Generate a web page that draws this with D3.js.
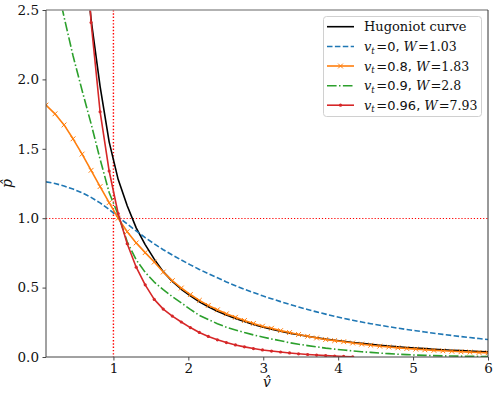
<!DOCTYPE html>
<html>
<head>
<meta charset="utf-8">
<script src="https://cdn.jsdelivr.net/npm/d3@7"></script>
<style>
  html, body { margin: 0; padding: 0; background: #fff; }
  svg { display: block; }
</style>
</head>
<body>
<svg id="chart" width="498" height="396"></svg>
<script>
// ---- data ----
const vGrid = [0.100,0.220,0.341,0.461,0.582,0.702,0.822,0.943,1.063,1.184,1.304,1.424,1.545,1.665,1.786,1.906,2.027,2.147,2.267,2.388,2.508,2.629,2.749,2.869,2.990,3.110,3.231,3.351,3.471,3.592,3.712,3.833,3.953,4.073,4.194,4.314,4.435,4.555,4.676,4.796,4.916,5.037,5.157,5.278,5.398,5.518,5.639,5.759,5.880,6.000];

const hugoniot = [null,null,null,null,3.09,2.43,1.95,1.55,1.28,1.09,0.93,0.81,0.705,0.615,0.545,0.488,0.44,0.398,0.362,0.33,0.302,0.277,0.255,0.235,0.216,0.2,0.185,0.172,0.16,0.149,0.139,0.129,0.121,0.113,0.105,0.098,0.091,0.085,0.079,0.074,0.069,0.064,0.06,0.056,0.052,0.049,0.046,0.043,0.04,0.038];

const pVt0 = [1.262,1.25,1.232,1.21,1.183,1.15,1.11,1.063,1.01,0.958,0.908,0.86,0.815,0.773,0.735,0.699,0.664,0.631,0.6,0.571,0.541,0.514,0.488,0.464,0.441,0.42,0.399,0.379,0.36,0.342,0.325,0.309,0.293,0.278,0.265,0.252,0.24,0.229,0.218,0.208,0.198,0.189,0.18,0.171,0.163,0.155,0.147,0.14,0.133,0.126];

const pVt08 = [1.815,1.752,1.672,1.572,1.462,1.345,1.228,1.112,1.0,0.903,0.822,0.752,0.684,0.612,0.55,0.497,0.45,0.408,0.372,0.34,0.311,0.286,0.263,0.242,0.222,0.207,0.19,0.176,0.162,0.149,0.137,0.126,0.118,0.11,0.101,0.093,0.085,0.078,0.072,0.066,0.061,0.0565,0.052,0.048,0.0445,0.041,0.0376,0.0349,0.0324,0.030];

const pVt09 = [null,2.75,2.45,2.17,1.92,1.68,1.425,1.185,1.025,0.83,0.70,0.61,0.54,0.485,0.435,0.39,0.343,0.30,0.27,0.24,0.215,0.195,0.176,0.159,0.144,0.13,0.117,0.103,0.092,0.082,0.073,0.064,0.057,0.05,0.044,0.038,0.033,0.028,0.024,0.02,0.017,0.014,0.012,0.01,0.008,0.007,0.006,0.005,0.004,0.003];

const pVt096 = [null,null,null,null,3.4,2.41,1.767,1.34,1.034,0.816,0.647,0.52,0.415,0.345,0.295,0.252,0.212,0.177,0.148,0.124,0.104,0.087,0.073,0.061,0.051,0.043,0.036,0.029,0.023,0.018,0.014,0.01,0.007,0.004,0.0015,null,null,null,null,null,null,null,null,null,null,null,null,null,null,null];

const xTicks = [1,2,3,4,5,6];
const yTicks = [0.0,0.5,1.0,1.5,2.0,2.5];
const vtLabels = ["0","0.8","0.9","0.96"];
const wLabels = ["1.03","1.83","2.8","7.93"];
const refV = 1, refP = 1;

// ---- layout ----
const svg = d3.select("#chart");
const L = 46, R = 488, T = 10, B = 357;
const x = d3.scaleLinear().domain([0.1, 6]).range([L, R]);
const y = d3.scaleLinear().domain([0, 2.5]).range([B, T]);

const serif = "'DejaVu Serif', serif";
const sans = "'DejaVu Sans', sans-serif";

svg.append("defs").append("clipPath").attr("id", "clip")
  .append("rect").attr("x", L).attr("y", T).attr("width", R - L).attr("height", B - T);

const plot = svg.append("g").attr("clip-path", "url(#clip)");

// reference dotted lines
const rx = x(refV);
const ry = Math.round(y(refP)) + 0.5;
plot.append("line")
  .attr("x1", rx).attr("x2", rx).attr("y1", T).attr("y2", B)
  .attr("stroke", "#ff0000").attr("stroke-width", 1.4).attr("stroke-dasharray", "1.4,1.9");
plot.append("line")
  .attr("x1", L).attr("x2", R).attr("y1", ry).attr("y2", ry)
  .attr("stroke", "#ff0000").attr("stroke-width", 1.1).attr("stroke-dasharray", "1.2,1.9");

function pts(arr) {
  return vGrid.map((v, i) => ({ v: v, p: arr[i] })).filter(d => d.p !== null);
}
const line = d3.line().x(d => x(d.v)).y(d => y(d.p));

const series = [
  { data: hugoniot, color: "#000000", dash: null, marker: null },
  { data: pVt0, color: "#1f77b4", dash: "5.5,2.4", marker: null },
  { data: pVt08, color: "#ff7f0e", dash: null, marker: "x" },
  { data: pVt09, color: "#2ca02c", dash: "9.6,2.4,1.5,2.4", marker: null },
  { data: pVt096, color: "#d62728", dash: null, marker: "dot" }
];

series.forEach(s => {
  const d = pts(s.data);
  plot.append("path").datum(d)
    .attr("d", line)
    .attr("fill", "none")
    .attr("stroke", s.color)
    .attr("stroke-width", 1.6)
    .attr("stroke-dasharray", s.dash)
    .attr("stroke-linejoin", "round");
  if (s.marker === "x") {
    const sz = 2.4;
    plot.append("g").selectAll("path").data(d).enter().append("path")
      .attr("d", p => `M${x(p.v)-sz},${y(p.p)-sz}L${x(p.v)+sz},${y(p.p)+sz}M${x(p.v)-sz},${y(p.p)+sz}L${x(p.v)+sz},${y(p.p)-sz}`)
      .attr("stroke", s.color).attr("stroke-width", 1).attr("fill", "none");
  } else if (s.marker === "dot") {
    plot.append("g").selectAll("circle").data(d).enter().append("circle")
      .attr("cx", p => x(p.v)).attr("cy", p => y(p.p)).attr("r", 1.6)
      .attr("fill", s.color);
  }
});

// ---- axes ----
const xAxis = d3.axisBottom(x).tickValues(xTicks).tickSize(3.5).tickPadding(3).tickFormat(d3.format("d"));
const yAxis = d3.axisLeft(y).tickValues(yTicks).tickSize(3.5).tickPadding(3.5).tickFormat(d3.format(".1f"));

const gx = svg.append("g").attr("transform", `translate(0,${B})`).call(xAxis);
const gy = svg.append("g").attr("transform", `translate(${L},0)`).call(yAxis);
[gx, gy].forEach(g => {
  g.select(".domain").remove();
  g.selectAll(".tick line").attr("stroke", "#333").attr("stroke-width", 0.9);
  g.selectAll(".tick text").attr("fill", "#111").style("font-family", serif).style("font-size", "13.5px");
});

// spines
svg.append("line").attr("x1", L).attr("x2", R).attr("y1", T).attr("y2", T).attr("stroke", "#999").attr("stroke-width", 1.4);
svg.append("line").attr("x1", L).attr("x2", L).attr("y1", T).attr("y2", B).attr("stroke", "#444").attr("stroke-width", 1);
svg.append("line").attr("x1", L).attr("x2", R).attr("y1", B).attr("y2", B).attr("stroke", "#444").attr("stroke-width", 1);
svg.append("line").attr("x1", R).attr("x2", R).attr("y1", T).attr("y2", B).attr("stroke", "#333").attr("stroke-width", 1);

// axis labels
svg.append("text").attr("x", (L + R) / 2).attr("y", 387).attr("text-anchor", "middle")
  .style("font-family", serif).style("font-style", "italic").style("font-size", "14px").attr("fill", "#111")
  .text("v\u0302");
svg.append("text").attr("transform", `translate(12,${(T + B) / 2}) rotate(-90)`).attr("text-anchor", "middle")
  .style("font-family", serif).style("font-style", "italic").style("font-size", "14px").attr("fill", "#111")
  .text("p\u0302");

// ---- legend ----
const lg = svg.append("g");
lg.append("rect").attr("x", 323.5).attr("y", 16.5).attr("width", 158).attr("height", 100).attr("rx", 3)
  .attr("fill", "#fff").attr("fill-opacity", 0.85).attr("stroke", "#d0d0d0").attr("stroke-width", 1);

const rowY = [26.7, 46.5, 66, 85.7, 105.2];
series.forEach((s, i) => {
  const yy = rowY[i];
  lg.append("line").attr("x1", 327).attr("x2", 354).attr("y1", yy).attr("y2", yy)
    .attr("stroke", s.color).attr("stroke-width", 1.6).attr("stroke-dasharray", s.dash);
  if (s.marker === "x") {
    const sz = 2.4, cx = 340.5;
    lg.append("path").attr("d", `M${cx-sz},${yy-sz}L${cx+sz},${yy+sz}M${cx-sz},${yy+sz}L${cx+sz},${yy-sz}`)
      .attr("stroke", s.color).attr("stroke-width", 1);
  } else if (s.marker === "dot") {
    lg.append("circle").attr("cx", 340.5).attr("cy", yy).attr("r", 1.6).attr("fill", s.color);
  }
  const t = lg.append("text").attr("x", 364).attr("y", yy + 4.6).attr("fill", "#111")
    .style("font-family", serif).style("font-size", "13px");
  if (i === 0) {
    t.text("Hugoniot curve");
  } else {
    t.append("tspan").style("font-style", "italic").text("v");
    t.append("tspan").style("font-style", "italic").style("font-size", "8.5px").attr("dy", 2.5).text("t");
    t.append("tspan").attr("dy", -2.5).attr("dx", 1.5).text("=");
    t.append("tspan").style("font-family", sans).text(vtLabels[i - 1] + ",");
    t.append("tspan").attr("dx", 4).style("font-style", "italic").text("W");
    t.append("tspan").attr("dx", 1).text("=");
    t.append("tspan").style("font-size", "12.5px").text(wLabels[i - 1]);
  }
});
</script>
</body>
</html>
